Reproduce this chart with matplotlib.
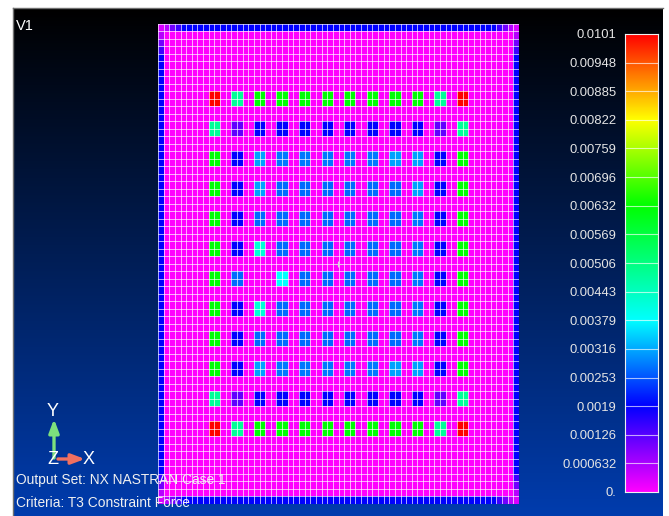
import numpy as np
import matplotlib
matplotlib.use("Agg")
import matplotlib.pyplot as plt
from matplotlib.colors import LinearSegmentedColormap

plt.rcParams["font.family"] = ["Liberation Sans", "DejaVu Sans"]

VMAX = 0.0101
N_CELLS = 64

tick_labels = ["0.0101", "0.00948", "0.00885", "0.00822", "0.00759", "0.00696",
               "0.00632", "0.00569", "0.00506", "0.00443", "0.00379", "0.00316",
               "0.00253", "0.0019", "0.00126", "0.000632", "0."]

# constraint force at the 12 x 12 patches of 2x2 elements, top row first
R, S, G, B, P = 0.0101, 0.0048, 0.0063, 0.0019, 0.0012
L1, L2, L3, C1, C2 = 0.0031, 0.0028, 0.0027, 0.0042, 0.0038
patch_values = [
    [R, S, G, G, G, G, G, G, G, G, S, R],
    [S, P, B, B, B, B, B, B, B, B, P, S],
    [G, B, L1, L2, L2, L2, L2, L2, L1, L1, B, G],
    [G, B, L1, L3, L3, L3, L3, L3, L3, L1, B, G],
    [G, B, L3, L3, L3, L3, L3, L3, L3, L2, B, G],
    [G, B, C1, L3, L3, L3, L3, L3, L3, L2, B, G],
    [G, L3, 0.0, C2, L3, L3, L3, L3, L3, L2, B, G],
    [G, B, C1, L3, L3, L3, L3, L3, L3, L2, B, G],
    [G, B, L3, L3, L3, L3, L3, L3, L3, L2, B, G],
    [G, B, L1, L2, L2, L2, L2, L2, L1, L1, B, G],
    [S, P, B, B, B, B, B, B, B, B, P, S],
    [R, S, G, G, G, G, G, G, G, G, S, R],
]

# boundary elements: values going in from a corner, blue everywhere after that
corner_values = [0.0003, 0.00055, 0.00105, 0.00145]
edge_value = 0.0019

stops = [(0.0, "#ff00ff"), (0.0019, "#0000ff"), (0.00379, "#00ffff"),
         (0.00632, "#00ff00"), (0.00822, "#ffff00"), (VMAX, "#ff0000")]
cmap = LinearSegmentedColormap.from_list("nastran", [(v / VMAX, c) for v, c in stops], N=512)

grid = np.zeros((N_CELLS, N_CELLS))
grid[[0, -1], :] = edge_value
grid[:, [0, -1]] = edge_value
for k, v in enumerate(corner_values):
    for i in (k, -1 - k):
        for j in (0, -1):
            grid[i, j] = v
            grid[j, i] = v
for i, row in enumerate(patch_values):
    for j, v in enumerate(row):
        grid[9 + 4 * i:11 + 4 * i, 9 + 4 * j:11 + 4 * j] = v

W, H = 669, 516
fig = plt.figure(figsize=(W / 100, H / 100), dpi=100, facecolor="white")


def px_axes(x0, y0, x1, y1):
    return fig.add_axes([x0 / W, 1 - y1 / H, (x1 - x0) / W, (y1 - y0) / H])


# viewport background
bg = px_axes(13, 8, 663, 516)
top = np.array([0.0, 0.0, 0.0])
bottom = np.array([0.0, 0.235, 0.68])
t = np.linspace(0, 1, 256)[:, None, None]
bg.imshow(top + (bottom - top) * t, aspect="auto", interpolation="bilinear")
bg.set_xticks([])
bg.set_yticks([])
for s in bg.spines.values():
    s.set_color("#707070")
    s.set_linewidth(1.0)
bg.spines["right"].set_visible(False)
bg.spines["bottom"].set_visible(False)

# plate mesh
ax = px_axes(158, 24, 519, 503.5)
edges = np.arange(N_CELLS + 1)
ax.pcolormesh(edges, edges, grid, cmap=cmap, vmin=0, vmax=VMAX)
for e in edges:
    ax.axvline(e, color="white", linewidth=0.55, alpha=0.85)
    ax.axhline(e, color="white", linewidth=0.55, alpha=0.85)
ax.set_xlim(0, N_CELLS)
ax.set_ylim(N_CELLS, 0)
ax.axis("off")

# colour bar
cb = px_axes(625, 34, 658, 492)
cb_vals = np.linspace(VMAX, 0, 512)[:, None]
cb.imshow(cb_vals, cmap=cmap, vmin=0, vmax=VMAX, aspect="auto",
          extent=(0, 1, 0, VMAX))
band_edges = np.linspace(0, VMAX, len(tick_labels))
for y in band_edges[1:-1]:
    cb.axhline(y, color="white", alpha=0.65, linewidth=0.8)
cb.set_xticks([])
cb.set_yticks(band_edges)
cb.set_yticklabels(tick_labels[::-1], color="#e4e4e4", fontsize=9.4)
cb.tick_params(axis="y", length=0, pad=6)
for s in cb.spines.values():
    s.set_color("#f0f0f0")
    s.set_linewidth(0.8)

# overlay in pixel coordinates for the triad and captions
ov = fig.add_axes([0, 0, 1, 1])
ov.set_xlim(0, W)
ov.set_ylim(H, 0)
ov.axis("off")
ov.patch.set_alpha(0)

ov.annotate("", xy=(54, 419), xytext=(54, 458),
            arrowprops=dict(arrowstyle="-|>,head_width=0.3,head_length=0.8", color="#7de07d",
                            linewidth=2.4, shrinkA=0, shrinkB=0))
ov.annotate("", xy=(85, 459), xytext=(58, 459),
            arrowprops=dict(arrowstyle="-|>,head_width=0.3,head_length=0.8", color="#f07060",
                            linewidth=2.4, shrinkA=0, shrinkB=0))
ov.text(53, 411, "Y", color="white", fontsize=13, ha="center", va="center")
ov.text(53, 460, "Z", color="white", fontsize=13, ha="center", va="center")
ov.text(89, 460, "X", color="white", fontsize=13, ha="center", va="center")
ov.text(16, 25.5, "V1", color="white", fontsize=10.5, ha="left", va="center")
ov.text(16, 480, "Output Set: NX NASTRAN Case 1", color="#f0f0f0", fontsize=9.9, ha="left", va="center")
ov.text(16, 503, "Criteria: T3 Constraint Force", color="#f0f0f0", fontsize=9.9, ha="left", va="center")
ov.plot([338], [264], marker="+", color="#d8d8d8", markersize=5, markeredgewidth=0.8)

fig.savefig("out.png", dpi=100, facecolor="white")
